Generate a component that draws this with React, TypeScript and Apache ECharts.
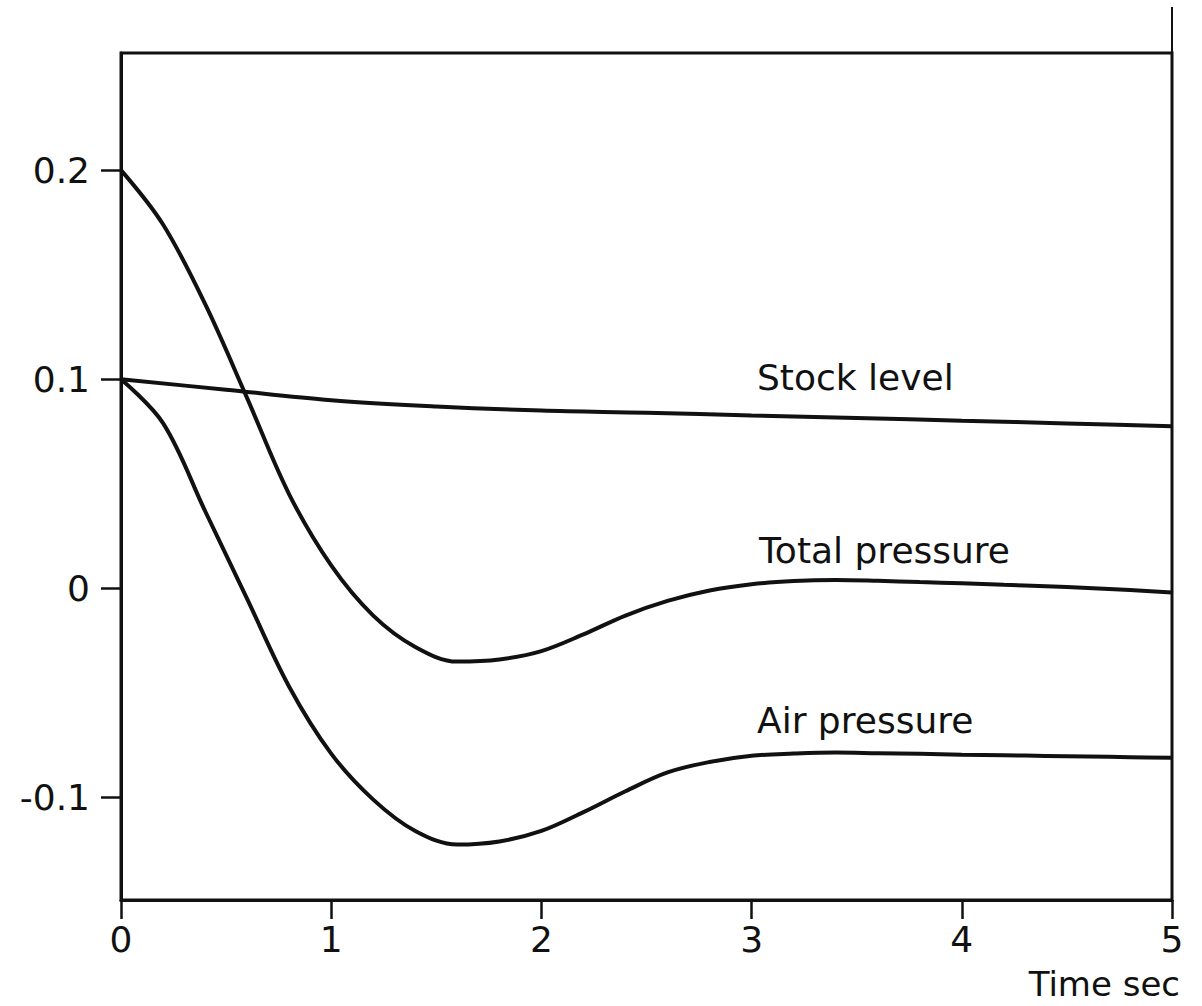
import React, { useEffect, useRef } from "react";
import * as echarts from "echarts";

// Time (sec) samples and values
const pressureTime = [0, 0.2, 0.4, 0.6, 0.8, 1.0, 1.2, 1.4, 1.6, 1.8, 2.0, 2.2, 2.4, 2.6, 2.8, 3.0, 3.2, 3.4, 3.6, 3.8, 4.0, 4.2, 4.4, 4.6, 4.8, 5.0];
const totalPressure = [0.2, 0.174, 0.136, 0.091, 0.045, 0.011, -0.013, -0.028, -0.035, -0.034, -0.03, -0.022, -0.013, -0.006, -0.001, 0.002, 0.0035, 0.004, 0.0036, 0.003, 0.0024, 0.0017, 0.001, 0.0002, -0.0008, -0.002];
const airPressure = [0.1, 0.079, 0.037, -0.005, -0.047, -0.079, -0.101, -0.116, -0.1225, -0.121, -0.116, -0.107, -0.097, -0.088, -0.083, -0.08, -0.079, -0.0785, -0.0788, -0.0791, -0.0795, -0.0798, -0.0801, -0.0804, -0.0807, -0.081];

const stockTime = [0, 0.5, 1.0, 1.5, 2.0, 2.5, 3.0, 3.5, 4.0, 4.5, 5.0];
const stockLevel = [0.1, 0.095, 0.09, 0.087, 0.085, 0.084, 0.0827, 0.0815, 0.0802, 0.0789, 0.0775];

const yTickValues = [-0.1, 0, 0.1, 0.2];
const seriesNames = ["Stock level", "Total pressure", "Air pressure"];
const xAxisTitle = "Time sec";

const FONT = "DejaVu Sans";
const INK = "#111";
const FS = 36;

const zip = (t: number[], v: number[]) => t.map((x, i) => [x, v[i]]);

export default function App() {
  const ref = useRef<HTMLDivElement>(null);

  useEffect(() => {
    if (!ref.current) return;
    const chart = echarts.init(ref.current, undefined, { renderer: "svg" });
    const lineSeries = (name: string, data: number[][]) => ({
      name,
      type: "line",
      data,
      smooth: 0.35,
      showSymbol: false,
      symbol: "none",
      lineStyle: { color: INK, width: 4 },
      z: 3,
    });
    const font = (size: number) => `${size}px '${FONT}'`;
    chart.setOption({
      animation: false,
      backgroundColor: "#fff",
      grid: {
        left: 121,
        top: 53,
        width: 1051,
        height: 847,
        show: true,
        borderColor: INK,
        borderWidth: 3,
        backgroundColor: "transparent",
      },
      xAxis: {
        type: "value",
        min: 0,
        max: 5,
        interval: 1,
        axisLine: { show: true, onZero: false, lineStyle: { color: INK, width: 3 } },
        axisTick: { show: true, inside: false, length: 19, lineStyle: { color: INK, width: 2.5 } },
        axisLabel: { margin: 21, fontSize: FS, fontFamily: FONT, color: INK },
        splitLine: { show: false },
      },
      yAxis: {
        type: "value",
        min: -0.149,
        max: 0.256,
        axisLine: { show: true, onZero: false, lineStyle: { color: INK, width: 3 } },
        axisTick: {
          show: true,
          inside: false,
          length: 20,
          customValues: yTickValues,
          lineStyle: { color: INK, width: 2.5 },
        },
        axisLabel: {
          customValues: yTickValues,
          margin: 31,
          fontSize: FS,
          fontFamily: FONT,
          color: INK,
          formatter: (v: number) => (Math.abs(v) < 1e-9 ? "0" : String(v)),
        },
        splitLine: { show: false },
      },
      graphic: [
        {
          type: "line",
          shape: { x1: 1172, y1: 7, x2: 1172, y2: 53 },
          style: { stroke: INK, lineWidth: 2 },
        },
        {
          type: "text",
          x: 757,
          y: 377,
          style: { text: seriesNames[0], font: font(FS), fill: INK, align: "left", verticalAlign: "middle" },
        },
        {
          type: "text",
          x: 759,
          y: 550,
          style: { text: seriesNames[1], font: font(FS), fill: INK, align: "left", verticalAlign: "middle" },
        },
        {
          type: "text",
          x: 757,
          y: 720,
          style: { text: seriesNames[2], font: font(FS), fill: INK, align: "left", verticalAlign: "middle" },
        },
        {
          type: "text",
          x: 1180,
          y: 984,
          style: { text: xAxisTitle, font: font(34), fill: INK, align: "right", verticalAlign: "middle" },
        },
      ],
      series: [
        lineSeries(seriesNames[0], zip(stockTime, stockLevel)),
        lineSeries(seriesNames[1], zip(pressureTime, totalPressure)),
        lineSeries(seriesNames[2], zip(pressureTime, airPressure)),
      ],
    });
    return () => chart.dispose();
  }, []);

  return (
    <div
      ref={ref}
      style={{ position: "fixed", left: 0, top: 0, width: 1202, height: 1006, background: "#fff" }}
    />
  );
}
